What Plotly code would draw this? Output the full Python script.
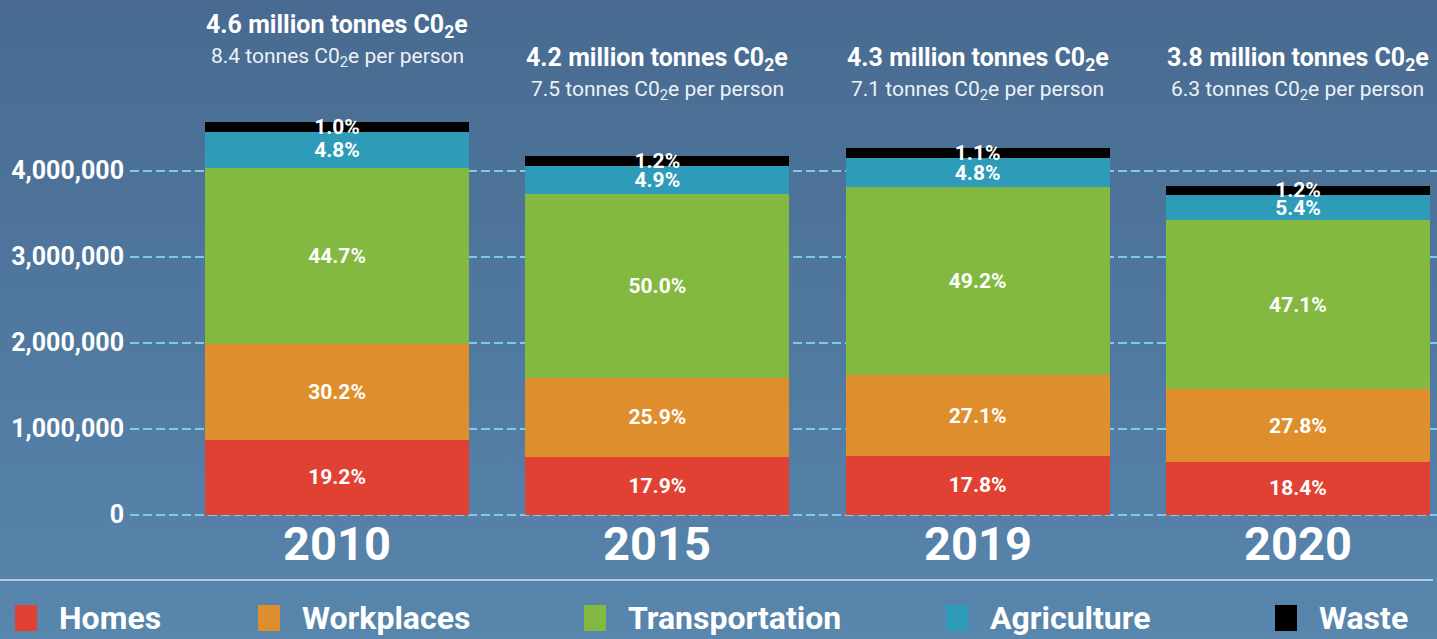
import base64
import plotly.graph_objects as go

# years and sector data (tonnes CO2e)
YEARS = ['2010', '2015', '2019', '2020']
SECTORS = ['Homes', 'Workplaces', 'Transportation', 'Agriculture', 'Waste']
COLORS = ['#e04132', '#de8e2c', '#84b941', '#2e9cb8', '#000000']

homes = [866000, 669000, 680000, 610000]
workplaces = [1116000, 919000, 942000, 849000]
transportation = [2047000, 2140000, 2186000, 1965000]
agriculture = [419000, 326000, 337000, 291000]
waste = [116000, 116000, 116000, 105000]

homes_pct = ['19.2%', '17.9%', '17.8%', '18.4%']
workplaces_pct = ['30.2%', '25.9%', '27.1%', '27.8%']
transportation_pct = ['44.7%', '50.0%', '49.2%', '47.1%']
agriculture_pct = ['4.8%', '4.9%', '4.8%', '5.4%']
waste_pct = ['1.0%', '1.2%', '1.1%', '1.2%']

total_million = ['4.6', '4.2', '4.3', '3.8']
per_person = ['8.4', '7.5', '7.1', '6.3']

Y_TICKS = [0, 1000000, 2000000, 3000000, 4000000]

FONT = 'Roboto'
W, H = 1437, 639
LEFT = 130

series = [homes, workplaces, transportation, agriculture, waste]
labels = [homes_pct, workplaces_pct, transportation_pct, agriculture_pct, waste_pct]

fig = go.Figure()
xs = list(range(len(YEARS)))
for name, vals, txt, col in zip(SECTORS, series, labels, COLORS):
    fig.add_trace(go.Bar(
        x=xs, y=vals, name=name,
        marker={'color': col, 'line': {'width': 0}},
        width=0.824,
        text=['<b>%s</b>' % t for t in txt],
        textposition='inside',
        insidetextanchor='middle',
        textangle=0,
        constraintext='none',
        textfont={'family': FONT, 'size': 21, 'color': 'white'},
        showlegend=False,
    ))

# background gradient as an svg image
svg = ('<svg xmlns="http://www.w3.org/2000/svg" width="100" height="100" preserveAspectRatio="none">'
       '<defs><linearGradient id="g" x1="0" y1="0" x2="0" y2="1">'
       '<stop offset="0" stop-color="#486a90"/><stop offset="1" stop-color="#5886ad"/>'
       '</linearGradient></defs><rect width="100" height="100" fill="url(#g)"/></svg>')
bg = 'data:image/svg+xml;base64,' + base64.b64encode(svg.encode()).decode()

plot_w = W - LEFT
annotations = []
for i, yr in enumerate(YEARS):
    # big year label under each bar
    annotations.append(dict(x=i, y=(514.5 - 543) / 86 * 1e6, xref='x', yref='y', text='<b>%s</b>' % yr,
                            showarrow=False, font={'family': FONT, 'size': 47, 'color': 'white'}))
    top = 26 if i == 0 else 59
    annotations.append(dict(x=i, y=(514.5 - top) / 86 * 1e6, xref='x', yref='y',
                            text='<b>%s million tonnes C0<sub>2</sub>e</b>' % total_million[i],
                            showarrow=False, font={'family': FONT, 'size': 25, 'color': 'white'}))
    annotations.append(dict(x=i, y=(514.5 - top - 31) / 86 * 1e6, xref='x', yref='y',
                            text='%s tonnes C0<sub>2</sub>e per person' % per_person[i],
                            showarrow=False, font={'family': FONT, 'size': 21, 'color': '#eef2f6'}))

# legend drawn by hand along the bottom
shapes = [dict(type='line', xref='paper', yref='paper', x0=-LEFT / plot_w, x1=(1433 - LEFT) / plot_w,
               y0=1 - 580 / H, y1=1 - 580 / H, line={'color': '#b6cadb', 'width': 2}, layer='above')]
legend_sq = [15, 258, 584, 946, 1275]
for name, col, px in zip(SECTORS, COLORS, legend_sq):
    shapes.append(dict(type='rect', xref='paper', yref='paper', x0=(px - LEFT) / plot_w,
                       x1=(px + 22 - LEFT) / plot_w, y0=1 - 631 / H, y1=1 - 605 / H,
                       fillcolor=col, line={'width': 0}, layer='above'))
    annotations.append(dict(x=(px + 42 - LEFT) / plot_w, y=1 - 618 / H, xref='paper', yref='paper',
                            xanchor='left', yanchor='middle', text='<b>%s</b>' % name, showarrow=False,
                            font={'family': FONT, 'size': 32, 'color': 'white'}))

fig.update_layout(
    width=W, height=H,
    barmode='stack',
    margin={'l': LEFT, 'r': 0, 't': 0, 'b': 0},
    paper_bgcolor='#5078a0',
    plot_bgcolor='rgba(0,0,0,0)',
    showlegend=False,
    annotations=annotations,
    shapes=shapes,
    images=[dict(source=bg, xref='paper', yref='paper', x=-LEFT / plot_w, y=1,
                 sizex=W / plot_w, sizey=1, sizing='stretch', layer='below',
                 xanchor='left', yanchor='top')],
    xaxis={'range': [-(337 - LEFT) / 320.3, 3 + (W - 1298) / 320.3], 'visible': False},
    yaxis={'range': [-(H - 514.5) / 86 * 1e6, 514.5 / 86 * 1e6],
           'tickvals': Y_TICKS, 'tickformat': ',', 'showgrid': True,
           'gridcolor': '#7fcbe6', 'gridwidth': 2, 'griddash': '9px,4px',
           'zeroline': False, 'showline': False, 'ticks': '',
           'ticklabelstandoff': 5,
           'tickfont': {'family': FONT, 'size': 25, 'color': 'white', 'weight': 'bold'}},
)

# page has a default body margin; remove it so the chart sits at the corner
fig.write_html('out.html', config={'displayModeBar': False},
               post_script="document.body.style.margin='0';")
